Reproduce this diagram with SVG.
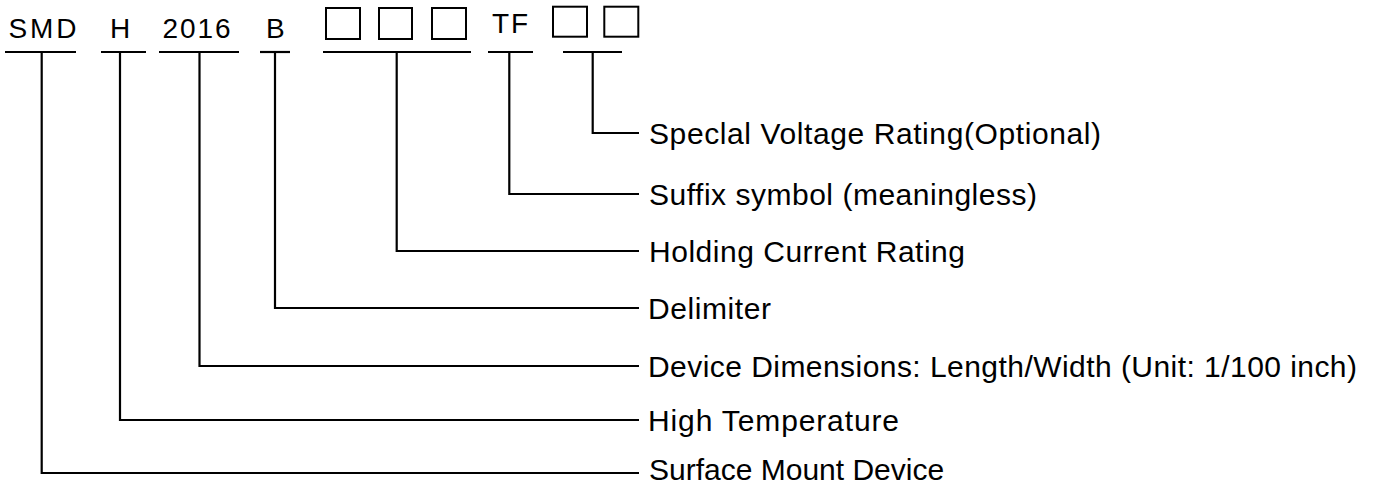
<svg xmlns="http://www.w3.org/2000/svg" width="1373" height="486" viewBox="0 0 1373 486">
<style>
.code{font-family:"Liberation Sans",Arial,sans-serif;font-size:28px;fill:#000}
.lbl{font-family:"Liberation Sans",Arial,sans-serif;font-size:30px;fill:#000}
.box{fill:none;stroke:#000;stroke-width:2}
.ln{fill:none;stroke:#000;stroke-width:2.2}
</style>
<rect width="1373" height="486" fill="#fff"/>
<g id="code-smd"><text class="code" x="8.5" y="37.5" textLength="68" lengthAdjust="spacing">SMD</text><line class="ln" x1="5" y1="52" x2="76" y2="52"/></g>
<g id="code-h"><text class="code" x="110" y="37.5">H</text><line class="ln" x1="101" y1="52" x2="146" y2="52"/></g>
<g id="code-2016"><text class="code" x="162.5" y="37.5" textLength="68" lengthAdjust="spacing">2016</text><line class="ln" x1="159" y1="52" x2="239" y2="52"/></g>
<g id="code-b"><text class="code" x="266" y="37.5">B</text><line class="ln" x1="260" y1="52" x2="290" y2="52"/></g>
<g id="code-current"><rect class="box" x="326" y="8" width="34" height="31"/><rect class="box" x="379" y="8" width="33" height="31"/><rect class="box" x="432" y="8" width="34" height="31"/><line class="ln" x1="323" y1="52" x2="471" y2="52"/></g>
<g id="code-tf"><text class="code" x="492" y="33.3" textLength="36" lengthAdjust="spacing">TF</text><line class="ln" x1="488" y1="52" x2="533" y2="52"/></g>
<g id="code-voltage"><rect class="box" x="553" y="6.7" width="34" height="30"/><rect class="box" x="604.3" y="6.7" width="34" height="30"/><line class="ln" x1="563" y1="52" x2="622" y2="52"/></g>
<g id="connectors">
<polyline class="ln" points="592.7,52 592.7,133 639,133"/>
<polyline class="ln" points="509.3,52 509.3,194 639,194"/>
<polyline class="ln" points="396.7,52 396.7,251 639,251"/>
<polyline class="ln" points="275,52 275,308 639,308"/>
<polyline class="ln" points="199.5,52 199.5,366 639,366"/>
<polyline class="ln" points="120,52 120,420 639,420"/>
<polyline class="ln" points="41.7,52 41.7,473 639,473"/>
</g>
<g id="label-voltage"><text class="lbl" x="649" y="143.7" textLength="452" lengthAdjust="spacing">Speclal Voltage Rating(Optional)</text></g>
<g id="label-suffix"><text class="lbl" x="649" y="204.7" textLength="388" lengthAdjust="spacing">Suffix symbol (meaningless)</text></g>
<g id="label-current"><text class="lbl" x="649" y="261.7" textLength="316" lengthAdjust="spacing">Holding Current Rating</text></g>
<g id="label-delimiter"><text class="lbl" x="648" y="318.7" textLength="123" lengthAdjust="spacing">Delimiter</text></g>
<g id="label-dimensions"><text class="lbl" x="648" y="376.7" textLength="709" lengthAdjust="spacing">Device Dimensions: Length/Width (Unit: 1/100 inch)</text></g>
<g id="label-temp"><text class="lbl" x="648" y="430.7" textLength="251" lengthAdjust="spacing">High Temperature</text></g>
<g id="label-smd"><text class="lbl" x="649" y="480">Surface Mount Device</text></g>
</svg>
